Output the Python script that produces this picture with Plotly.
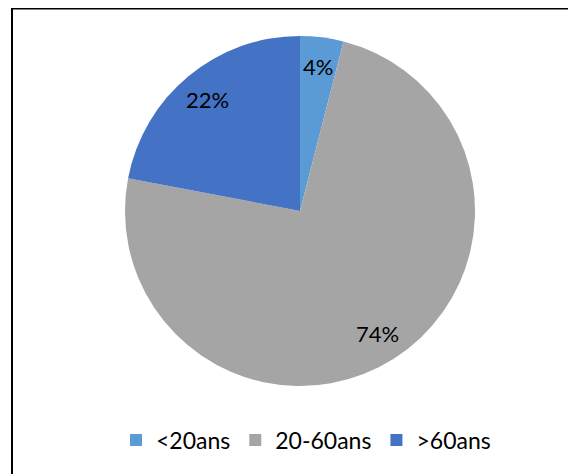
import math
import plotly.graph_objects as go

labels = ["<20ans", "20-60ans", ">60ans"]
values = [4, 74, 22]
colors = ["#5B9BD5", "#A5A5A5", "#4472C4"]

W, H = 576, 474
# page body adds an 8px offset; geometry below is in figure pixels
cx, cy, r = 292, 203, 175

fig = go.Figure(go.Pie(
    labels=labels, values=values, sort=False, direction="clockwise", rotation=0,
    marker=dict(colors=colors, line=dict(width=0)),
    textinfo="none", hoverinfo="label+percent",
    domain=dict(x=[(cx - r) / W, (cx + r) / W], y=[1 - (cy + r) / H, 1 - (cy - r) / H]),
))

# percentage labels along each slice bisector
total = sum(values)
cum = 0
for v in values:
    mid = (cum + v / 2) / total * 2 * math.pi
    cum += v
    px = cx + 0.83 * r * math.sin(mid)
    py = cy - 0.83 * r * math.cos(mid)
    fig.add_annotation(x=px / W, y=1 - py / H, xref="paper", yref="paper",
                       xanchor="center", yanchor="middle",
                       text=f"{round(v / total * 100)}%", showarrow=False,
                       font=dict(size=22, color="#000000"))

# frame: only top and left edges fall inside the visible area
fig.add_shape(type="line", xref="paper", yref="paper",
              x0=4 / W, x1=1.0, y0=1 - 0.5 / H, y1=1 - 0.5 / H,
              line=dict(color="#000000", width=2))
fig.add_shape(type="line", xref="paper", yref="paper",
              x0=4 / W, x1=4 / W, y0=0.0, y1=1.0,
              line=dict(color="#000000", width=2))

fig.update_layout(
    width=W, height=H, margin=dict(l=0, r=0, t=0, b=0),
    paper_bgcolor="white", plot_bgcolor="white",
    font=dict(family="Lato, Carlito, sans-serif", size=23, color="#000000"),
    showlegend=True,
    legend=dict(orientation="h", x=298 / W, xanchor="center", y=1 - 432 / H, yanchor="middle",
                font=dict(size=23), itemwidth=30, traceorder="normal"),
)
fig.write_html("out.html")
